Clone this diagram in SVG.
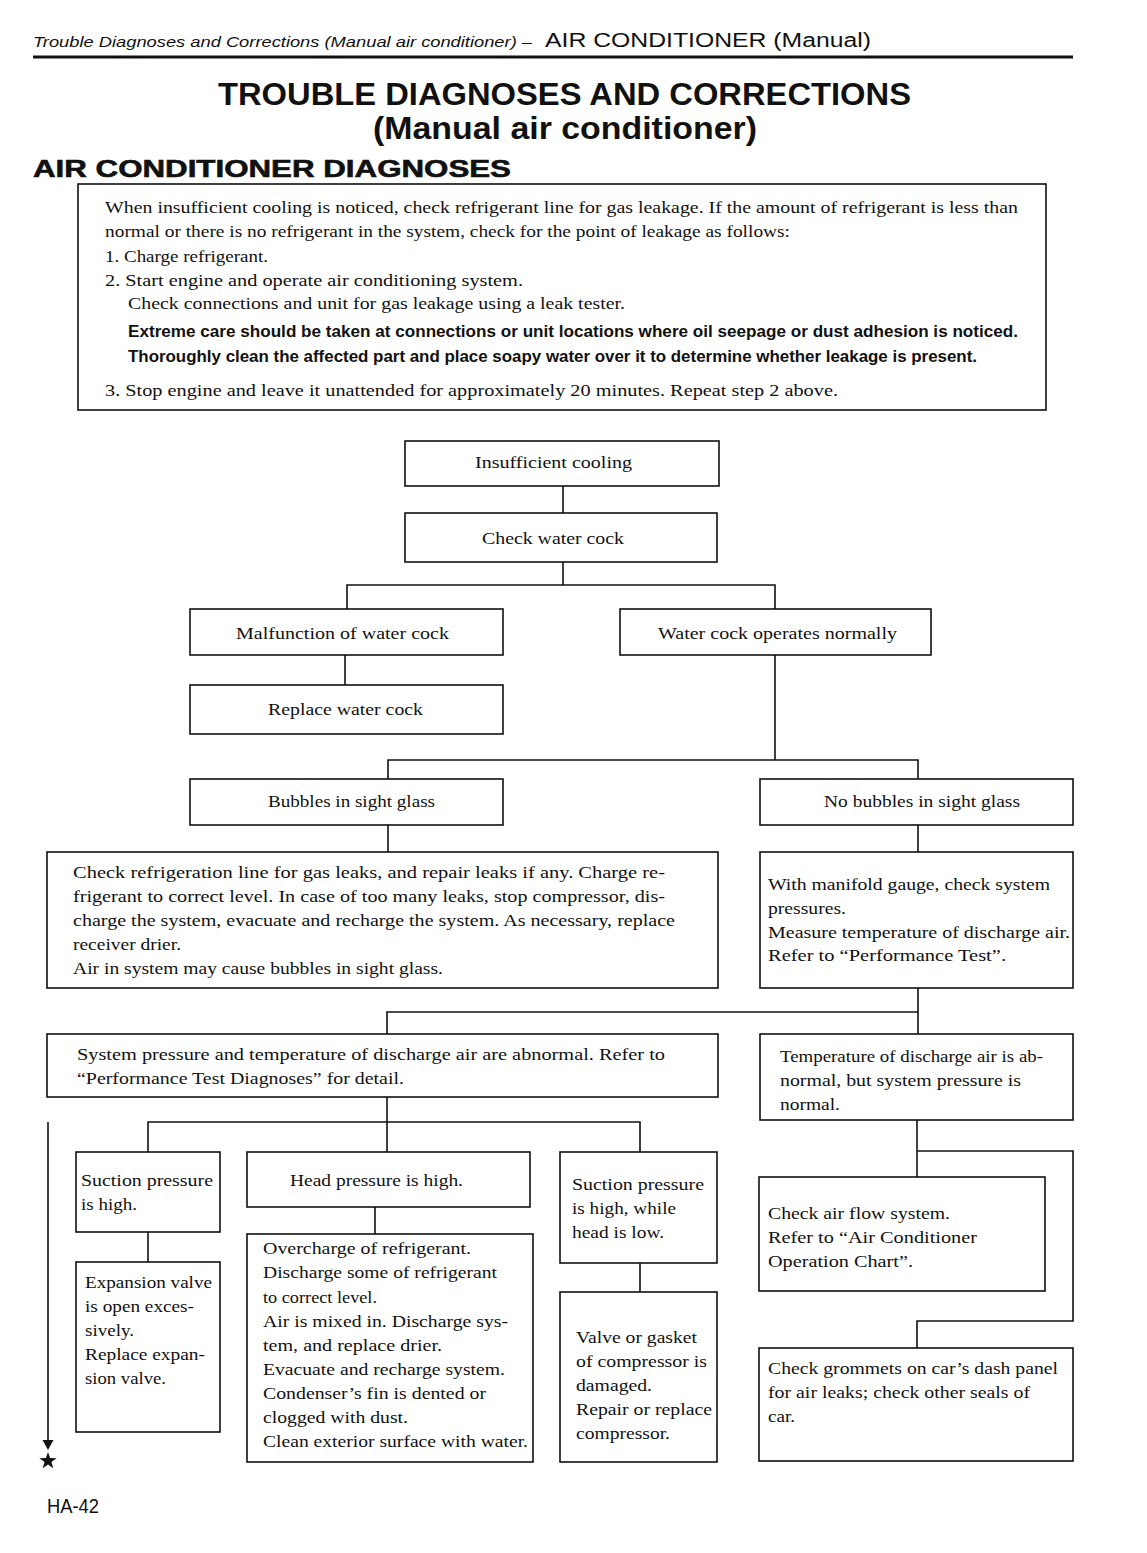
<svg xmlns="http://www.w3.org/2000/svg" width="1147" height="1553" viewBox="0 0 1147 1553">
<style>
.bx{fill:none;stroke:#111;stroke-width:1.6}
.ln{fill:none;stroke:#111;stroke-width:1.6}
.t{font-family:"Liberation Serif","Times New Roman",serif;font-size:17.5px;fill:#111}
.b{font-family:"Liberation Sans",Arial,sans-serif;font-size:16px;font-weight:bold;fill:#111}
.h{font-family:"Liberation Sans",Arial,sans-serif;fill:#111}
</style>
<rect width="1147" height="1553" fill="#fff"/>

<g id="header">
<text class="h" x="33" y="47" font-size="15" font-style="italic" textLength="499" lengthAdjust="spacingAndGlyphs">Trouble Diagnoses and Corrections (Manual air conditioner) –</text>
<text class="h" x="545" y="47" font-size="20" textLength="326" lengthAdjust="spacingAndGlyphs">AIR CONDITIONER (Manual)</text>
<line x1="33" y1="57" x2="1073" y2="57" stroke="#111" stroke-width="3"/>
<text class="h" x="218" y="105" font-size="32" font-weight="bold" textLength="693" lengthAdjust="spacingAndGlyphs">TROUBLE DIAGNOSES AND CORRECTIONS</text>
<text class="h" x="373" y="139" font-size="32" font-weight="bold" textLength="384" lengthAdjust="spacingAndGlyphs">(Manual air conditioner)</text>
<text class="h" x="33" y="177" font-size="24" font-weight="900" stroke="#111" stroke-width="0.6" textLength="478" lengthAdjust="spacingAndGlyphs">AIR CONDITIONER DIAGNOSES</text>
</g>

<g id="intro">
<rect class="bx" x="78" y="184" width="968" height="226"/>
<text class="t" x="105" y="213" textLength="913" lengthAdjust="spacingAndGlyphs">When insufficient cooling is noticed, check refrigerant line for gas leakage. If the amount of refrigerant is less than</text>
<text class="t" x="105" y="237" textLength="685" lengthAdjust="spacingAndGlyphs">normal or there is no refrigerant in the system, check for the point of leakage as follows:</text>
<text class="t" x="105" y="262" textLength="163" lengthAdjust="spacingAndGlyphs">1. Charge refrigerant.</text>
<text class="t" x="105" y="286" textLength="418" lengthAdjust="spacingAndGlyphs">2. Start engine and operate air conditioning system.</text>
<text class="t" x="128" y="309" textLength="497" lengthAdjust="spacingAndGlyphs">Check connections and unit for gas leakage using a leak tester.</text>
<text class="b" x="128" y="337" textLength="890" lengthAdjust="spacingAndGlyphs">Extreme care should be taken at connections or unit locations where oil seepage or dust adhesion is noticed.</text>
<text class="b" x="128" y="362" textLength="849" lengthAdjust="spacingAndGlyphs">Thoroughly clean the affected part and place soapy water over it to determine whether leakage is present.</text>
<text class="t" x="105" y="396" textLength="733" lengthAdjust="spacingAndGlyphs">3. Stop engine and leave it unattended for approximately 20 minutes. Repeat step 2 above.</text>
</g>

<g id="connectors">
<line class="ln" x1="563" y1="486" x2="563" y2="513"/>
<polyline class="ln" points="563,562 563,585"/>
<polyline class="ln" points="347,609 347,585 775,585 775,609"/>
<line class="ln" x1="345" y1="655" x2="345" y2="685"/>
<line class="ln" x1="775" y1="655" x2="775" y2="760"/>
<polyline class="ln" points="388,779 388,760 918,760 918,779"/>
<line class="ln" x1="388" y1="825" x2="388" y2="852"/>
<line class="ln" x1="918" y1="825" x2="918" y2="852"/>
<line class="ln" x1="918" y1="988" x2="918" y2="1034"/>
<polyline class="ln" points="918,1012 387,1012 387,1034"/>
<line class="ln" x1="387" y1="1097" x2="387" y2="1152"/>
<polyline class="ln" points="148,1152 148,1122 640,1122 640,1152"/>
<polyline class="ln" points="48,1122 48,1442"/>
<polygon points="42.5,1440 53.5,1440 48,1450" fill="#111"/>
<line class="ln" x1="148" y1="1232" x2="148" y2="1262"/>
<line class="ln" x1="375" y1="1207" x2="375" y2="1234"/>
<line class="ln" x1="640" y1="1263" x2="640" y2="1292"/>
<line class="ln" x1="917" y1="1120" x2="917" y2="1177"/>
<polyline class="ln" points="917,1151 1073,1151 1073,1321 917,1321 917,1348"/>
<polygon points="48,1452 50.1,1458.1 56.6,1458.2 51.4,1462.1 53.3,1468.3 48,1464.6 42.7,1468.3 44.6,1462.1 39.4,1458.2 45.9,1458.1" fill="#111"/>
</g>

<g id="n-insufficient">
<rect class="bx" x="405" y="441" width="314" height="45" stroke-width="2.6"/>
<text class="t" x="475" y="468" textLength="157" lengthAdjust="spacingAndGlyphs">Insufficient cooling</text>
</g>
<g id="n-checkwater">
<rect class="bx" x="405" y="513" width="312" height="49"/>
<text class="t" x="482" y="544" textLength="142" lengthAdjust="spacingAndGlyphs">Check water cock</text>
</g>
<g id="n-malfunction">
<rect class="bx" x="190" y="609" width="313" height="46"/>
<text class="t" x="236" y="639" textLength="213" lengthAdjust="spacingAndGlyphs">Malfunction of water cock</text>
</g>
<g id="n-normal">
<rect class="bx" x="620" y="609" width="311" height="46"/>
<text class="t" x="658" y="639" textLength="239" lengthAdjust="spacingAndGlyphs">Water cock operates normally</text>
</g>
<g id="n-replace">
<rect class="bx" x="190" y="685" width="313" height="49"/>
<text class="t" x="268" y="715" textLength="155" lengthAdjust="spacingAndGlyphs">Replace water cock</text>
</g>
<g id="n-bubbles">
<rect class="bx" x="190" y="779" width="313" height="46"/>
<text class="t" x="268" y="807" textLength="167" lengthAdjust="spacingAndGlyphs">Bubbles in sight glass</text>
</g>
<g id="n-nobubbles">
<rect class="bx" x="760" y="779" width="313" height="46"/>
<text class="t" x="824" y="807" textLength="196" lengthAdjust="spacingAndGlyphs">No bubbles in sight glass</text>
</g>
<g id="n-checkline">
<rect class="bx" x="47" y="852" width="671" height="136"/>
<text class="t" x="73" y="878" textLength="592" lengthAdjust="spacingAndGlyphs">Check refrigeration line for gas leaks, and repair leaks if any.  Charge re-</text>
<text class="t" x="73" y="902" textLength="592" lengthAdjust="spacingAndGlyphs">frigerant to correct level.  In case of too many leaks, stop compressor, dis-</text>
<text class="t" x="73" y="926" textLength="602" lengthAdjust="spacingAndGlyphs">charge the system, evacuate and recharge the system.  As necessary, replace</text>
<text class="t" x="73" y="950" textLength="108" lengthAdjust="spacingAndGlyphs">receiver drier.</text>
<text class="t" x="73" y="974" textLength="370" lengthAdjust="spacingAndGlyphs">Air in system may cause bubbles in sight glass.</text>
</g>
<g id="n-manifold">
<rect class="bx" x="760" y="852" width="313" height="136"/>
<text class="t" x="768" y="890" textLength="282" lengthAdjust="spacingAndGlyphs">With manifold gauge, check system</text>
<text class="t" x="768" y="914" textLength="78" lengthAdjust="spacingAndGlyphs">pressures.</text>
<text class="t" x="768" y="938" textLength="302" lengthAdjust="spacingAndGlyphs">Measure temperature of discharge air.</text>
<text class="t" x="768" y="961" textLength="238" lengthAdjust="spacingAndGlyphs">Refer to “Performance Test”.</text>
</g>
<g id="n-abnormal">
<rect class="bx" x="47" y="1034" width="671" height="63"/>
<text class="t" x="77" y="1060" textLength="588" lengthAdjust="spacingAndGlyphs">System pressure and temperature of discharge air are abnormal.  Refer to</text>
<text class="t" x="77" y="1084" textLength="327" lengthAdjust="spacingAndGlyphs">“Performance Test Diagnoses” for detail.</text>
</g>
<g id="n-temperature">
<rect class="bx" x="760" y="1034" width="313" height="86"/>
<text class="t" x="780" y="1062" textLength="263" lengthAdjust="spacingAndGlyphs">Temperature of discharge air is ab-</text>
<text class="t" x="780" y="1086" textLength="241" lengthAdjust="spacingAndGlyphs">normal, but system pressure is</text>
<text class="t" x="780" y="1110" textLength="60" lengthAdjust="spacingAndGlyphs">normal.</text>
</g>
<g id="n-suction">
<rect class="bx" x="76" y="1152" width="144" height="80"/>
<text class="t" x="81" y="1186" textLength="132" lengthAdjust="spacingAndGlyphs">Suction pressure</text>
<text class="t" x="81" y="1210" textLength="56" lengthAdjust="spacingAndGlyphs">is high.</text>
</g>
<g id="n-expansion">
<rect class="bx" x="76" y="1262" width="144" height="170"/>
<text class="t" x="85" y="1288" textLength="127" lengthAdjust="spacingAndGlyphs">Expansion valve</text>
<text class="t" x="85" y="1312" textLength="109" lengthAdjust="spacingAndGlyphs">is open exces-</text>
<text class="t" x="85" y="1336" textLength="49" lengthAdjust="spacingAndGlyphs">sively.</text>
<text class="t" x="85" y="1360" textLength="120" lengthAdjust="spacingAndGlyphs">Replace expan-</text>
<text class="t" x="85" y="1384" textLength="81" lengthAdjust="spacingAndGlyphs">sion valve.</text>
</g>
<g id="n-head">
<rect class="bx" x="247" y="1152" width="283" height="55"/>
<text class="t" x="290" y="1186" textLength="173" lengthAdjust="spacingAndGlyphs">Head pressure is high.</text>
</g>
<g id="n-overcharge">
<rect class="bx" x="247" y="1234" width="286" height="228"/>
<text class="t" x="263" y="1254" textLength="208" lengthAdjust="spacingAndGlyphs">Overcharge of refrigerant.</text>
<text class="t" x="263" y="1278" textLength="234" lengthAdjust="spacingAndGlyphs">Discharge some of refrigerant</text>
<text class="t" x="263" y="1303" textLength="114" lengthAdjust="spacingAndGlyphs">to correct level.</text>
<text class="t" x="263" y="1327" textLength="245" lengthAdjust="spacingAndGlyphs">Air is mixed in.  Discharge sys-</text>
<text class="t" x="263" y="1351" textLength="179" lengthAdjust="spacingAndGlyphs">tem, and replace drier.</text>
<text class="t" x="263" y="1375" textLength="242" lengthAdjust="spacingAndGlyphs">Evacuate and recharge system.</text>
<text class="t" x="263" y="1399" textLength="223" lengthAdjust="spacingAndGlyphs">Condenser’s fin is dented or</text>
<text class="t" x="263" y="1423" textLength="145" lengthAdjust="spacingAndGlyphs">clogged with dust.</text>
<text class="t" x="263" y="1447" textLength="265" lengthAdjust="spacingAndGlyphs">Clean exterior surface with water.</text>
</g>
<g id="n-suctionhead">
<rect class="bx" x="560" y="1152" width="157" height="111"/>
<text class="t" x="572" y="1190" textLength="132" lengthAdjust="spacingAndGlyphs">Suction pressure</text>
<text class="t" x="572" y="1214" textLength="104" lengthAdjust="spacingAndGlyphs">is high, while</text>
<text class="t" x="572" y="1238" textLength="92" lengthAdjust="spacingAndGlyphs">head is low.</text>
</g>
<g id="n-valve">
<rect class="bx" x="560" y="1292" width="157" height="170"/>
<text class="t" x="576" y="1343" textLength="121" lengthAdjust="spacingAndGlyphs">Valve or gasket</text>
<text class="t" x="576" y="1367" textLength="131" lengthAdjust="spacingAndGlyphs">of compressor is</text>
<text class="t" x="576" y="1391" textLength="76" lengthAdjust="spacingAndGlyphs">damaged.</text>
<text class="t" x="576" y="1415" textLength="136" lengthAdjust="spacingAndGlyphs">Repair or replace</text>
<text class="t" x="576" y="1439" textLength="94" lengthAdjust="spacingAndGlyphs">compressor.</text>
</g>
<g id="n-airflow">
<rect class="bx" x="759" y="1177" width="286" height="114"/>
<text class="t" x="768" y="1219" textLength="182" lengthAdjust="spacingAndGlyphs">Check air flow system.</text>
<text class="t" x="768" y="1243" textLength="209" lengthAdjust="spacingAndGlyphs">Refer to “Air Conditioner</text>
<text class="t" x="768" y="1267" textLength="145" lengthAdjust="spacingAndGlyphs">Operation Chart”.</text>
</g>
<g id="n-grommets">
<rect class="bx" x="759" y="1348" width="314" height="113"/>
<text class="t" x="768" y="1374" textLength="290" lengthAdjust="spacingAndGlyphs">Check grommets on car’s dash panel</text>
<text class="t" x="768" y="1398" textLength="262" lengthAdjust="spacingAndGlyphs">for air leaks; check other seals of</text>
<text class="t" x="768" y="1422" textLength="27" lengthAdjust="spacingAndGlyphs">car.</text>
</g>

<g id="footer">
<text class="h" x="47" y="1513" font-size="20" textLength="52" lengthAdjust="spacingAndGlyphs">HA-42</text>
</g>
</svg>
